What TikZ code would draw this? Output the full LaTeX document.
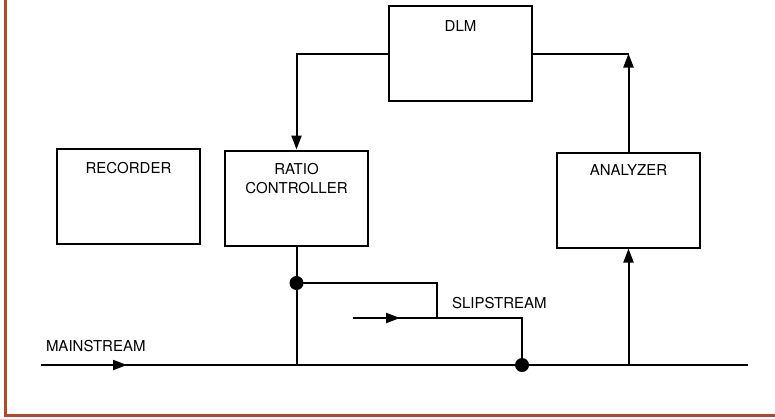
\documentclass[tikz,border=0pt]{standalone}
\usepackage{fontspec}
\setmainfont{TeX Gyre Heros}
\usetikzlibrary{positioning,arrows.meta}
\definecolor{framered}{RGB}{180,72,42}

\begin{document}
\begin{tikzpicture}[x=1pt, y=-1pt, line width=2pt,
  blk/.style={draw, minimum width=143pt, minimum height=95pt, inner sep=0pt},
  tag/.style={font=\fontsize{15}{19}\selectfont, align=center, inner sep=0pt},
  dot/.style={circle, fill, inner sep=0pt, minimum size=14pt},
  arr/.style={-{Triangle[length=14pt, width=10pt]}}]
\useasboundingbox (0,0) rectangle (775,418);
\draw[framered, line width=3pt] (5,0) -- (5,415) -- (775,415);

% blocks
\node[blk, label={[tag, below=13pt]north:RECORDER}] (rec) at (128.5,196.5) {};
\node[blk, label={[tag, below=13pt]north:{RATIO\\CONTROLLER}}] (ratio) at (296.5,198) {};
\node[blk, label={[tag, below=15pt]north:DLM}] (dlm) at (460.5,53.5) {};
\node[blk, label={[tag, below=12pt]north:ANALYZER}] (ana) at (628.5,200) {};

% control loop
\coordinate (up) at (ana.north |- dlm.west);
\draw[arr] (dlm.west) -| (ratio.north);
\draw (dlm.east) -- (up);
\draw[arr] (ana.north) -- (up);

% mainstream
\coordinate (ms0) at (41,365);
\coordinate (ms1) at (748,365);
\coordinate (msarr) at (127,365);
\draw (ms0) -- (ms1);
\draw[arr] (ms0) -- (msarr);
\node[tag, anchor=west] (mst) at (45,346) {MAINSTREAM};
\draw (ratio.south) -- (ratio.south |- ms0);
\draw[arr] (ana.south |- ms0) -- (ana.south);

% slipstream
\node[dot] (j1) at (ratio.south |- 0,283) {};
\node[dot] (j2) at (522,365) {};
\coordinate (s0) at (353,318);
\coordinate (sarr) at (400,318);
\coordinate (sj) at (437,318);
\draw (j1.center) -| (sj);
\draw (s0) -| (j2.center);
\draw[arr] (s0) -- (sarr);
\node[tag, anchor=west] (sst) at (451,303) {SLIPSTREAM};
\end{tikzpicture}
\end{document}
